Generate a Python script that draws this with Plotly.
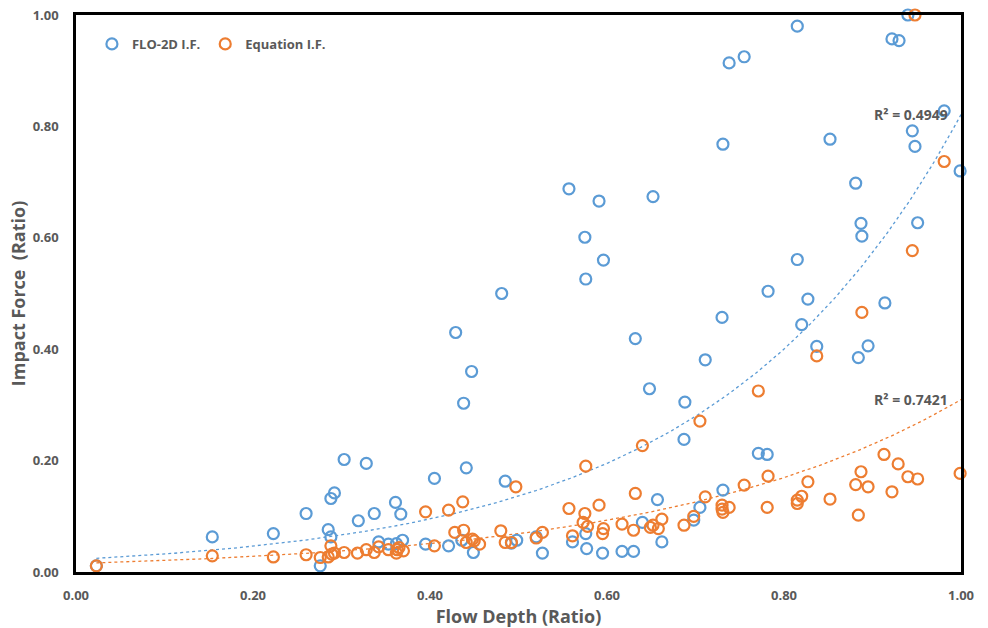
import numpy as np
import plotly.graph_objects as go

# FLO-2D impact force (ratio) vs flow depth (ratio)
flo_x = [0.023, 0.154, 0.223, 0.260, 0.276, 0.285, 0.288, 0.288, 0.292, 0.303,
         0.319, 0.328, 0.337, 0.342, 0.353, 0.361, 0.362, 0.367, 0.369, 0.395,
         0.405, 0.421, 0.429, 0.436, 0.438, 0.441, 0.447, 0.449, 0.481, 0.485,
         0.492, 0.498, 0.520, 0.527, 0.557, 0.561, 0.575, 0.576, 0.576, 0.577,
         0.591, 0.595, 0.596, 0.617, 0.630, 0.632, 0.640, 0.648, 0.652, 0.657,
         0.662, 0.687, 0.688, 0.698, 0.705, 0.711, 0.730, 0.731, 0.731, 0.738,
         0.755, 0.771, 0.781, 0.782, 0.815, 0.815, 0.820, 0.827, 0.837, 0.852,
         0.881, 0.884, 0.887, 0.888, 0.895, 0.914, 0.922, 0.930, 0.940, 0.945,
         0.948, 0.951, 0.981, 0.999]
flo_y = [0.011, 0.063, 0.069, 0.105, 0.011, 0.076, 0.063, 0.132, 0.142, 0.202,
         0.092, 0.195, 0.105, 0.054, 0.050, 0.125, 0.051, 0.104, 0.057, 0.050,
         0.168, 0.047, 0.430, 0.057, 0.303, 0.187, 0.360, 0.035, 0.500, 0.163,
         0.052, 0.057, 0.063, 0.034, 0.688, 0.054, 0.601, 0.526, 0.069, 0.042,
         0.666, 0.034, 0.560, 0.037, 0.037, 0.419, 0.089, 0.329, 0.674, 0.130,
         0.054, 0.238, 0.305, 0.093, 0.116, 0.381, 0.457, 0.147, 0.768, 0.914,
         0.925, 0.213, 0.211, 0.504, 0.561, 0.980, 0.444, 0.490, 0.405, 0.777,
         0.698, 0.385, 0.626, 0.603, 0.406, 0.483, 0.957, 0.954, 1.000, 0.792,
         0.764, 0.627, 0.828, 0.720]

# Equation impact force (ratio) vs flow depth (ratio)
eq_x = [0.023, 0.154, 0.223, 0.260, 0.276, 0.285, 0.288, 0.289, 0.292, 0.303,
        0.318, 0.328, 0.337, 0.342, 0.353, 0.362, 0.363, 0.365, 0.370, 0.395,
        0.405, 0.421, 0.428, 0.437, 0.438, 0.441, 0.448, 0.450, 0.456, 0.480,
        0.485, 0.492, 0.497, 0.520, 0.527, 0.557, 0.561, 0.573, 0.575, 0.576,
        0.578, 0.591, 0.595, 0.596, 0.617, 0.630, 0.632, 0.640, 0.649, 0.652,
        0.658, 0.662, 0.687, 0.698, 0.705, 0.711, 0.730, 0.730, 0.731, 0.738,
        0.755, 0.771, 0.781, 0.782, 0.815, 0.815, 0.820, 0.827, 0.837, 0.852,
        0.881, 0.884, 0.887, 0.888, 0.895, 0.913, 0.922, 0.929, 0.940, 0.945,
        0.948, 0.951, 0.981, 0.999]
eq_y = [0.011, 0.029, 0.027, 0.031, 0.026, 0.027, 0.047, 0.032, 0.034, 0.035,
        0.034, 0.040, 0.035, 0.045, 0.040, 0.034, 0.040, 0.044, 0.038, 0.108,
        0.047, 0.111, 0.071, 0.126, 0.075, 0.053, 0.059, 0.056, 0.050, 0.074,
        0.053, 0.053, 0.153, 0.061, 0.071, 0.114, 0.065, 0.089, 0.105, 0.190,
        0.082, 0.120, 0.069, 0.078, 0.086, 0.075, 0.141, 0.227, 0.080, 0.084,
        0.078, 0.095, 0.084, 0.100, 0.271, 0.135, 0.120, 0.113, 0.107, 0.116,
        0.156, 0.325, 0.116, 0.172, 0.129, 0.123, 0.136, 0.162, 0.388, 0.131,
        0.157, 0.102, 0.180, 0.466, 0.153, 0.211, 0.144, 0.194, 0.171, 0.577,
        1.000, 0.167, 0.737, 0.177]

r2_labels = ["R² = 0.4949", "R² = 0.7421"]
x_ticks = [0.0, 0.2, 0.4, 0.6, 0.8, 1.0]
y_ticks = [0.0, 0.2, 0.4, 0.6, 0.8, 1.0]

BLUE = "#5B9BD5"
ORANGE = "#ED7D31"
GREY = "#595959"
FONT = "Open Sans"


def exp_fit(xs, ys, x_end=1.0):
    xs = np.asarray(xs)
    ys = np.asarray(ys)
    b, lna = np.polyfit(xs, np.log(ys), 1)
    xx = np.linspace(xs.min(), x_end, 300)
    return xx, np.exp(lna) * np.exp(b * xx)


fig = go.Figure()

bx, by = exp_fit(flo_x, flo_y)
ox, oy = exp_fit(eq_x, eq_y)

fig.add_trace(go.Scatter(x=bx, y=by, mode="lines", showlegend=False,
                         line=dict(color=BLUE, width=1.3, dash="dot"), hoverinfo="skip"))
fig.add_trace(go.Scatter(x=ox, y=oy, mode="lines", showlegend=False,
                         line=dict(color=ORANGE, width=1.3, dash="dot"), hoverinfo="skip"))

fig.add_trace(go.Scatter(x=flo_x, y=flo_y, mode="markers", name="FLO-2D I.F.",
                         cliponaxis=False,
                         marker=dict(symbol="circle-open", size=11, color=BLUE,
                                     line=dict(width=2.2, color=BLUE))))
fig.add_trace(go.Scatter(x=eq_x, y=eq_y, mode="markers", name="Equation I.F.",
                         cliponaxis=False,
                         marker=dict(symbol="circle-open", size=11, color=ORANGE,
                                     line=dict(width=2.2, color=ORANGE))))

fig.add_annotation(x=1.0, y=by[-1], xref="x", yref="y", text=r2_labels[0],
                   showarrow=False, xanchor="right", yanchor="middle", xshift=-11, yshift=0,
                   font=dict(family=FONT, size=14, color=GREY, weight="bold"))
fig.add_annotation(x=1.0, y=oy[-1], xref="x", yref="y", text=r2_labels[1],
                   showarrow=False, xanchor="right", yanchor="middle", xshift=-11, yshift=0,
                   font=dict(family=FONT, size=14, color=GREY, weight="bold"))

axis_common = dict(showgrid=False, zeroline=False, showline=True, linecolor="black",
                   linewidth=2.5, mirror=True, ticks="", tickformat=".2f",
                   automargin=False,
                   tickfont=dict(family=FONT, size=13, color=GREY, weight="bold"))

fig.update_layout(
    width=988, height=628,
    margin=dict(l=76, r=27, t=15, b=56),
    paper_bgcolor="white", plot_bgcolor="white",
    font=dict(family=FONT, color=GREY),
    xaxis=dict(range=[0, 1], tickvals=x_ticks, ticklabelstandoff=10,
               title=dict(text="Flow Depth (Ratio)", standoff=6,
                          font=dict(family=FONT, size=18, color=GREY, weight="bold")),
               **axis_common),
    yaxis=dict(range=[0, 1], tickvals=y_ticks, ticklabelstandoff=12,
               title=dict(text="Impact Force  (Ratio)", standoff=3,
                          font=dict(family=FONT, size=18, color=GREY, weight="bold")),
               **axis_common),
    legend=dict(orientation="h", x=0.018, y=0.975, xanchor="left", yanchor="top",
                bgcolor="rgba(0,0,0,0)", tracegroupgap=0,
                font=dict(family=FONT, size=13, color=GREY, weight="bold"),
                itemwidth=30),
)

fig.write_html("out.html")
